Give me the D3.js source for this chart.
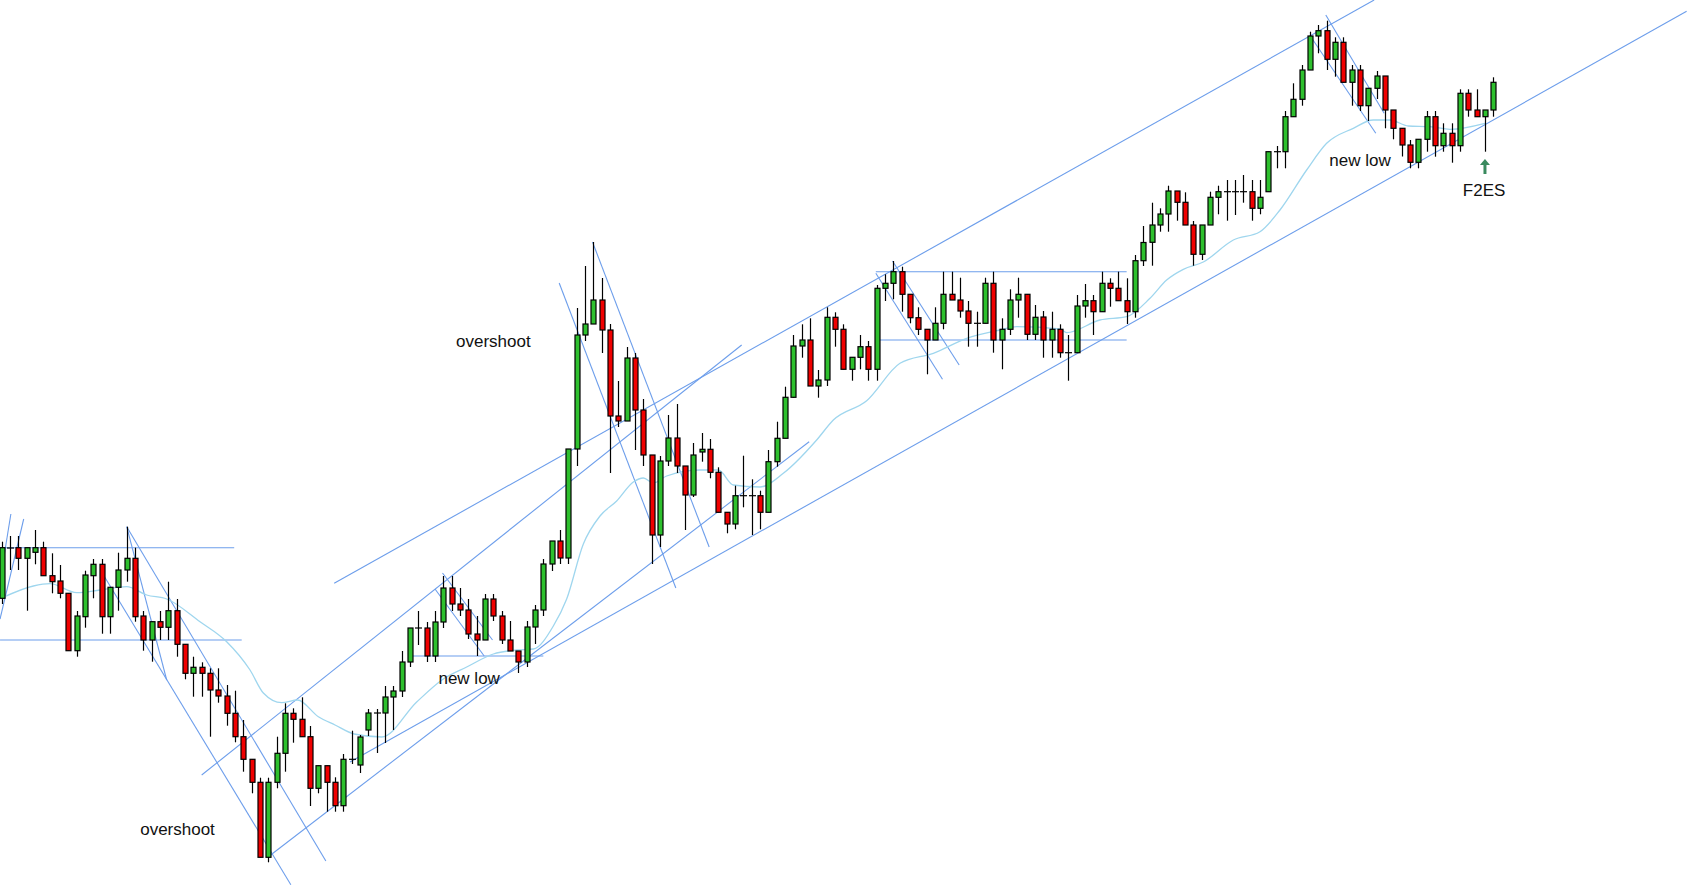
<!DOCTYPE html>
<html><head><meta charset="utf-8">
<script src="https://cdn.jsdelivr.net/npm/d3@7"></script>
<style>html,body{margin:0;background:#fff;}svg{display:block;}</style>
</head><body><svg id="c" width="1687" height="885"></svg>
<script>
// OHLC per bar (price units)
const opens=[301.7,352,352.3,341.7,347.7,352.3,324.3,319,306.7,249.3,283.3,324.3,335.7,283.3,312.7,330,341.7,284,260,278.3,272.7,289.3,255.7,226.7,232.7,226.7,210,204,186.7,163.3,140.7,117.7,42.7,117.7,146.7,186.7,180.7,163.3,111.7,134.3,117.7,94.3,140.7,135,170,187,187,203,209,238,272,272,244,278,312,296,290,266,260,301,284,260,249,238,273,290,336,359,342,451,565,576,600,570,484,479,542,490,445,365,439,462,434,405,448,450.7,427.7,387.7,376,404.3,404.3,404.3,387.7,438.3,461.7,502.7,554,560,514,520,582.7,570.7,530.7,542.7,553.3,530.7,611.7,616.7,628.3,605.7,582.3,570.7,560,576.7,605.7,600,589,576.7,576.7,616.7,560,570.7,600,605.7,565.7,583,560,570.7,547.3,547.3,594,599.3,588.3,616.7,611.7,599.3,588.3,639.3,657.7,675,686,709,697.7,675,645.7,675,702.7,708.3,708.3,708.3,708.3,691.7,708.3,748.3,748.3,783.3,800.7,830,864,869.3,840.7,857.7,817.7,830,794.3,811.7,824,790,771.7,755,737.7,760.7,783.3,754.3,766.7,754.3,806.7,790,783.3,790];
const highs=[358.3,364,364,352.3,370,358.3,346.7,335,306.7,289,329.3,341,341,312.7,347.3,373.3,352.3,289,278.3,289,318.3,301,255.7,243.3,237.7,231.7,231.7,215,209.3,180,140.7,122.3,122.3,163.3,196.7,191.7,202.7,174,134.3,134.3,122.7,146,169.3,165,191,191,214,214,249,272,289,278,289,324,324,312,301,284,306,306,289,279,249,279,295,341,359,370,451,592,634,658,622,576,519,553,547,501,445,444,485,496,434,457,467,461,432.7,387.7,414.3,444.3,420.7,409.3,450,478.3,513.3,565,575.7,581.7,530,592.7,587.7,575.7,542.7,565,559,615,625.7,639,633.3,605.7,592.7,570.7,592.7,628.3,628.3,622.3,599,588.3,622.3,628.3,581.7,610.7,622.3,606,595,589,588.3,575.7,565,605,616,605,628.3,621.7,628.3,621.7,645,674,697.3,691.7,714.3,709,707.7,679,675,708.3,714.3,720,720,725,720,720,748.3,754,789,816.7,835,868.3,875,879.3,862.7,862.7,835,835,811.7,829,824,790,772,760,760.7,789,789,776.7,776.7,810.7,810.7,810.7,790,822.7];
const lows=[296,330,330,289.3,335.7,324.3,306.7,301.7,249.3,243.3,272.3,301.7,266.3,266.3,289.3,318.3,278.3,249.3,238.3,260,260,243.3,220.7,203.3,203.3,163.3,197.3,174.3,157.7,128.3,106.7,42.7,37.7,111.7,128.3,157.3,163.3,94,106.7,88.3,88.3,88.3,136,127,164,147,157,170,203,233,255,238,238,272,289,284,261,244,260,279,256,249,227,233,256,284,329,336,336,434,559,576,547,427,473,479,450,434,336,353,434,427,370,403,438.3,421.7,387.7,366.7,370.7,392.7,365,370.7,387.7,433.3,461.7,502.3,542.3,514,502.3,514,553.3,530.7,519.3,530.7,519.3,519.3,599,600.7,588.3,576.7,565,525.7,560,570.7,600,582.3,553.3,553.3,576.7,547.3,530.7,565,582.3,560,560,542.3,542.3,542.3,519.3,547.3,582.3,565,588.3,593.3,599.3,576,582.3,634,634.3,668.3,668.3,679.3,675,634.3,640,675,685.7,679.3,685,697.3,679.3,685.7,708.3,731.7,731.7,783.3,794.3,830,846.7,830,823.3,817.7,794.3,789,779,801,771.7,760.7,743.5,731.7,731.7,748.3,743.3,748.3,737.3,748.3,783.3,783.3,748.3,783.3];
const closes=[352.3,352,341.7,352.3,352.3,324.3,318.3,306.7,249.3,284,325,335.7,283.3,312.7,330,341.7,283.3,260,278.3,272.7,289.3,255.7,226.7,232.7,226.7,210,204,186.7,163.3,140.7,117.7,42.7,117.7,146.7,186.7,180.7,163.3,111.7,134.3,117.7,94.3,140.7,140.7,163,187,187,203,209,238,272,272,244,278,312,296,290,266,260,301,284,260,249,238,273,290,336,359,342,451,565,576,600,570,484,479,542,490,445,365,439,462,434,405,445,450.7,427.7,387.7,376,404.3,404.3,404.3,387.7,438.3,461.7,502.7,554,560,514,520,582.7,570.7,530.7,542.7,553.3,530.7,611.7,616.7,628.3,605.7,582.3,570.7,560,576.7,605.7,600,589,576.7,576.7,616.7,560,570.7,600,605.7,565.7,582.7,560,570.7,547.3,547.3,594,599.3,588.3,616.7,611.7,599.3,588.3,639.3,657.5,675,686,709,697.7,675,645.7,675,702.7,708.3,708.3,708.3,708.3,691.7,702.7,748.3,748.3,783.3,800.7,830,864,869.3,840.7,857.7,817.7,830,794.3,811.7,824,790,771.7,755,737.7,760.7,783.3,754.3,766.7,754.3,806.7,790,783.3,790,817.7];
// moving average readings (bar index, price)
const maIdx=[0,3.8,5.8,9,11.8,15,17.4,19.8,23.8,27,29.8,31.4,33.6,35.5,38,40,42.3,45.6,49.8,53,55.8,59,61.8,63.8,66.2,67.8,69.8,71.8,73.8,75.8,77,78.2,79.8,83.8,86,87.8,91,93.8,97.8,99.8,103.8,107.8,111.8,115.8,119.8,121.8,127,127.8,131.8,135,137.8,139.8,141.8,144.2,147.8,151,153.4,156.6,159,162.2,164.6,166.6,168.8,171.4,173.8,178];
const maVal=[302,314,316.3,307.3,310,313.3,305,301,278.3,258.3,230,207,197.3,200,183.3,175,166,163,198,221,233,246,250,251,274,301,356,384,399,418,422,417,424,430,430,415,413,426.7,460,480,499.3,536.7,546.7,561.7,570,573.3,571,567.3,580,583.3,601.7,620,630.7,638,660,668.3,690,730,756.7,771.7,780,780,774,773.3,770.7,776.7];
// trend lines: [idx1, price1, idx2, price2]
const trendLines=[[-0.2,352.3,27.9,352.3],[-0.2,260,28.8,260],[-0.2,319,1.1,386],[-0.2,281,2.64,381],
[15,373.3,19.8,220],[15,373.3,38.9,39],[11.9,329.3,34.7,15.3],[24,125,88.8,555],[39.9,316.7,164.7,900],
[41.8,138,202.2,888.7],[32,43.3,96.9,458.3],[66.9,617,80.9,312],[70.9,658,84.9,353],
[52.9,327,58.9,260],[52,311,57.9,244],[49,244,65,244],[104.9,628.3,135,628.3],[105.1,560,135,560],
[104.9,626.7,112.9,520.7],[106.9,639,114.9,535],[157.1,863.3,164.9,766.7],[158.9,885,165.9,786.7]];
const labelText=["overshoot","overshoot","new low","new low","F2ES"];
const labelIdx=[21.1,59,56.1,163,177.9];
const labelVal=[70.2,559,222,739.3,709.3];

const svg=d3.select("#c");
const x=d3.scaleLinear().domain([0,179]).range([1.7,1493.3]);
const y=d3.scaleLinear().domain([0,900]).range([900,0]);
const bars=opens.map((o,i)=>({i,o,h:highs[i],l:lows[i],c:closes[i]}));

svg.append("g").selectAll("line").data(trendLines).join("line")
 .attr("x1",d=>x(d[0])).attr("y1",d=>y(d[1])).attr("x2",d=>x(d[2])).attr("y2",d=>y(d[3]))
 .attr("stroke","#6d9eeb").attr("stroke-width",1.1);

const ma=maIdx.map((v,k)=>[v,maVal[k]]);
svg.append("path").datum(ma).attr("fill","none").attr("stroke","#9fd6ee").attr("stroke-width",1.3)
 .attr("d",d3.line().x(d=>x(d[0])).y(d=>y(d[1])).curve(d3.curveMonotoneX));

const g=svg.append("g");
g.selectAll(".w").data(bars).join("line").attr("x1",d=>Math.round(x(d.i))+0.5).attr("x2",d=>Math.round(x(d.i))+0.5)
 .attr("y1",d=>y(d.h)).attr("y2",d=>y(d.l)).attr("stroke","#000").attr("stroke-width",1.2);
g.selectAll(".b").data(bars.filter(d=>Math.abs(d.o-d.c)>0.5)).join("rect")
 .attr("x",d=>Math.round(x(d.i))-2).attr("width",5)
 .attr("y",d=>y(Math.max(d.o,d.c))).attr("height",d=>Math.abs(y(d.o)-y(d.c)))
 .attr("fill",d=>d.c>d.o?"#2ec02e":"#f00000").attr("stroke","#000").attr("stroke-width",1.2);
g.selectAll(".d").data(bars.filter(d=>Math.abs(d.o-d.c)<=0.5)).join("line")
 .attr("x1",d=>Math.round(x(d.i))-3).attr("x2",d=>Math.round(x(d.i))+4)
 .attr("y1",d=>y(d.c)).attr("y2",d=>y(d.c)).attr("stroke","#000").attr("stroke-width",1.2);

svg.append("g").selectAll("text").data(labelText).join("text")
 .attr("x",(d,k)=>x(labelIdx[k])).attr("y",(d,k)=>y(labelVal[k]))
 .attr("text-anchor","middle").attr("dominant-baseline","central")
 .attr("font-family","Liberation Sans, Arial, sans-serif").attr("font-size",17).attr("fill","#111").text(d=>d);

// arrow under signal bar
const ax=x(178), ay1=y(726), ay2=y(740);
svg.append("line").attr("x1",ax).attr("x2",ax).attr("y1",ay1).attr("y2",ay2+4).attr("stroke","#3a8a5e").attr("stroke-width",3);
svg.append("path").attr("d",`M${ax-5},${ay2+5}L${ax},${ay2-1}L${ax+5},${ay2+5}Z`).attr("fill","#3a8a5e");
</script></body></html>
